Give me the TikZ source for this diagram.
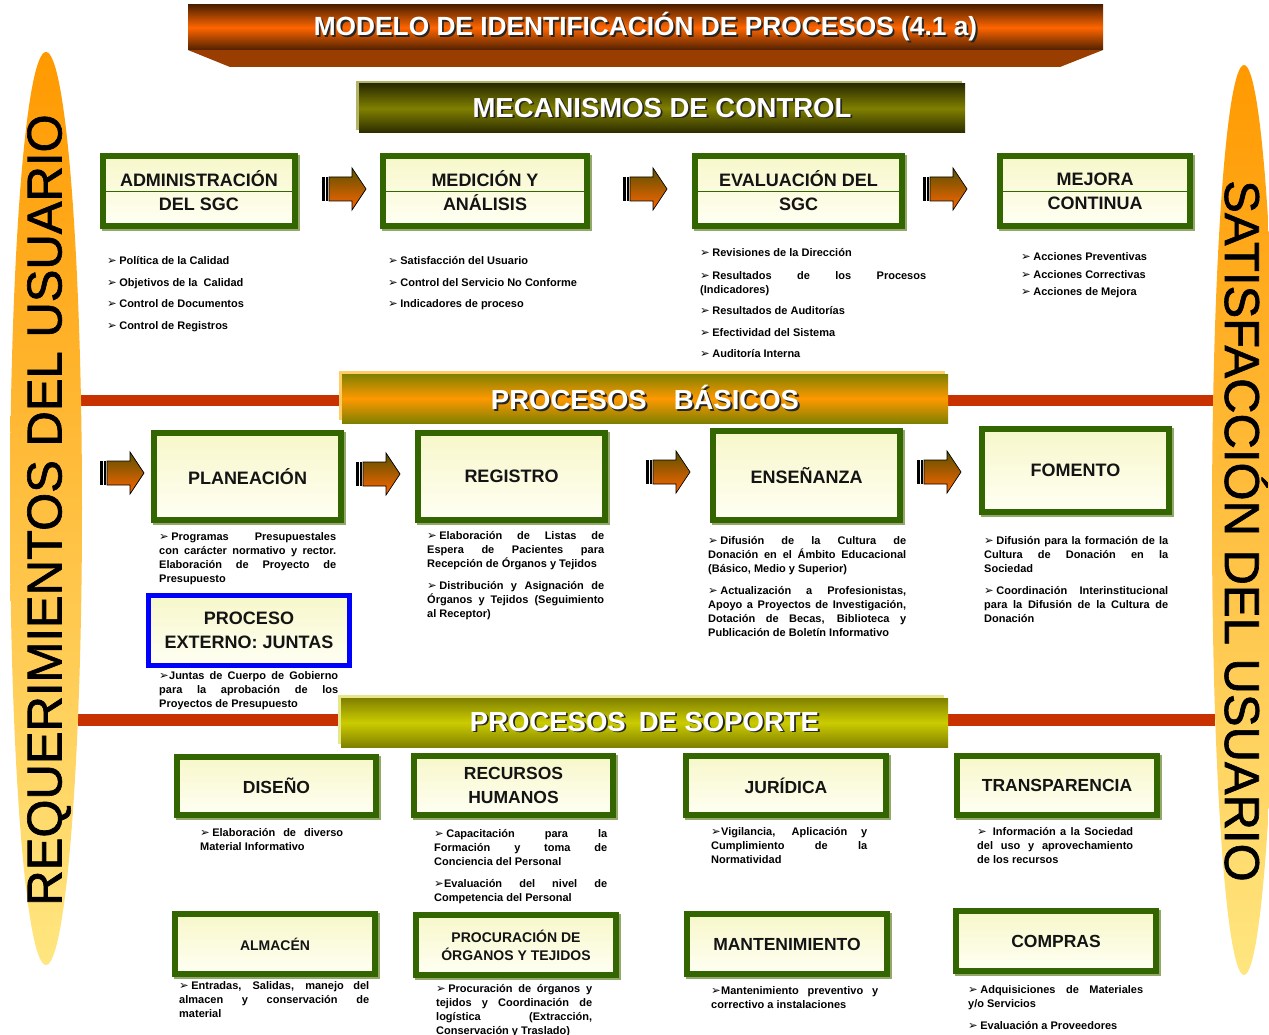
\documentclass[tikz,border=0pt]{standalone}
\usepackage{fontspec}
\setmainfont{Liberation Sans}
\newfontfamily\dejavu{DejaVu Sans}
\newfontfamily\sidefont[FakeBold=1.3]{Liberation Sans}
\usetikzlibrary{shadows,calc}

\definecolor{boxgreen}{HTML}{336600}
\definecolor{boxshadow}{HTML}{93A86A}
\definecolor{creamtop}{HTML}{F7F7CA}
\definecolor{creambot}{HTML}{FFFFF4}
\definecolor{redline}{HTML}{C83200}
\definecolor{ttldark}{HTML}{4F2000}
\definecolor{ttlorange}{HTML}{FF6600}
\definecolor{ttlbase}{HTML}{993D00}
\definecolor{olvdark}{HTML}{2B2B00}
\definecolor{olivemid}{HTML}{808000}
\definecolor{olvedge}{HTML}{B3B36A}
\definecolor{basorange}{HTML}{FF9900}
\definecolor{basedge}{HTML}{FFCC66}
\definecolor{sopyellow}{HTML}{CCCC00}
\definecolor{sopedge}{HTML}{E6E68A}
\definecolor{arrtop}{HTML}{5A5000}
\definecolor{arrbot}{HTML}{FF6600}
\definecolor{sidetop}{HTML}{FF9900}
\definecolor{sidebot}{HTML}{FFE680}
\definecolor{extblue}{HTML}{0000FF}

% white heading text with a dark drop shadow
\newcommand\shtext[1]{\leavevmode\rlap{\kern1.8pt\raisebox{-1.8pt}{\textcolor{black!85}{#1}}}#1}
% bullet glyph
\newcommand\bul{{\dejavu\fontsize{11.5}{11}\selectfont\char"27A2}}
\newcommand\bu{\bul\kern2.5pt}
\newcommand\bun{\bul\kern0.3pt}
% one fully justified line inside a paragraph box
\newcommand\jl[1]{\makebox[\linewidth][s]{#1}}

\hbadness=10000
\hfuzz=20pt

\begin{document}
\begin{tikzpicture}[x=1pt,y=-1pt,
  cbox/.style={draw=boxgreen, line width=6pt, top color=creamtop, bottom color=creambot,
    inner sep=0, align=center, text=black!92, font=\fontsize{18}{24}\selectfont\bfseries},
  gbox/.style={cbox, general shadow={fill=boxshadow, draw=boxshadow, line width=6pt,
    shadow xshift=2pt, shadow yshift=-2pt}},
  hbar/.style={inner sep=0, text=white, font=\fontsize{27.5}{30}\selectfont\bfseries,
    minimum width=606, minimum height=49},
  blist/.style={anchor=base west, inner sep=0, font=\fontsize{11}{14.3}\selectfont\bfseries},
  side/.style={inner sep=0, font=\sidefont\fontsize{49}{49}\selectfont, text=black},
  blockarr/.pic={
    \shadedraw[top color=arrtop, bottom color=arrbot, draw=black, line width=0.7pt]
      (-15,-12) -- (8,-12) -- (8,-21) -- (22,0) -- (8,21) -- (8,12) -- (-15,12) -- cycle;
    \fill[black] (-22,-12) rectangle (-19,12);
    \fill[black] (-18,-12) rectangle (-16.3,12);
  }
]
\useasboundingbox (0,0) rectangle (1269,1035);

% ---------- separating red lines ----------
\fill[redline] (78,395) rectangle (345,406);
\fill[redline] (945,395) rectangle (1215,406);
\fill[redline] (78,714) rectangle (345,726);
\fill[redline] (945,714) rectangle (1215,726);

% ---------- side bands ----------
\shade[top color=sidetop, bottom color=sidebot] (46,508.5) ellipse [x radius=36, y radius=456.5];
\shade[top color=sidetop, bottom color=sidebot] (1244,520) ellipse [x radius=32, y radius=455];
\node[side, rotate=90] (req) at (49,510) {REQUERIMIENTOS DEL USUARIO};
\node[side, rotate=-90] (sat) at (1246,531) {SATISFACCIÓN DEL USUARIO};

% ---------- title ----------
\fill[ttlbase] (188,50) -- (1103,50) -- (1060,67) -- (230,67) -- cycle;
\node[inner sep=0, minimum width=915, minimum height=45, top color=ttldark, bottom color=ttldark,
  middle color=ttlorange, text=white, font=\fontsize{26.3}{28}\selectfont\bfseries]
  (ttl) at (645.5,27.5) {\shtext{MODELO DE IDENTIFICACIÓN DE PROCESOS (4.1 a)}};

% ---------- control mechanisms ----------
\fill[olvedge] (356,81) rectangle (962,130);
\node[hbar, top color=olvdark, bottom color=olvdark, middle color=olivemid]
  (mec) at (662,108.5) {\shtext{MECANISMOS DE CONTROL}};

\node[gbox, minimum width=192, minimum height=70] (adm) at (199,191) {ADMINISTRACIÓN\\DEL SGC};
\node[gbox, minimum width=204, minimum height=70] (med) at (485,191) {MEDICIÓN Y\\ANÁLISIS};
\node[gbox, minimum width=207, minimum height=70] (eva) at (798.5,191) {EVALUACIÓN DEL\\SGC};
\node[gbox, minimum width=190, minimum height=70] (mej) at (1095,191) {MEJORA\\CONTINUA};
\foreach \b in {adm,med,eva,mej}
  \draw[boxgreen, line width=1.2pt] ($(\b.west)+(3,0.5)$) -- ($(\b.east)+(-3,0.5)$);

\pic at (344,189) {blockarr};
\pic at (645,189) {blockarr};
\pic at (945,189) {blockarr};

\node[blist] (adm1) at (107,264) {\bu Política de la Calidad};
\node[blist] (adm2) at (107,286) {\bu Objetivos de la\ \ Calidad};
\node[blist] (adm3) at (107,307) {\bu Control de Documentos};
\node[blist] (adm4) at (107,329) {\bu Control de Registros};

\node[blist] (med1) at (388,265) {\bu Satisfacción del Usuario};
\node[blist] (med2) at (388,286) {\bu Control del Servicio No Conforme};
\node[blist] (med3) at (388,307) {\bu Indicadores de proceso};

\node[blist] (eva1) at (700,257) {\bu Revisiones de la Dirección};
\node[blist] (eva2) at (700,279) {\parbox[t]{226pt}{\jl{\bu Resultados de los Procesos}\\(Indicadores)}};
\node[blist] (eva3) at (700,314) {\bu Resultados de Auditorías};
\node[blist] (eva4) at (700,336) {\bu Efectividad del Sistema};
\node[blist] (eva5) at (700,357) {\bu Auditoría Interna};

\node[blist] (mej1) at (1021,261) {\bu Acciones Preventivas};
\node[blist] (mej2) at (1021,278) {\bu Acciones Correctivas};
\node[blist] (mej3) at (1021,295) {\bu Acciones de Mejora};

% ---------- basic processes ----------
\fill[basedge] (339,371) rectangle (945,420);
\node[hbar, top color=olivemid, bottom color=olivemid, middle color=basorange]
  (bas) at (645,398.5) {\shtext{PROCESOS\hspace{27pt}BÁSICOS}};

\node[gbox, minimum width=187, minimum height=87] (pla) at (247.5,476.5) {PLANEACIÓN};
\node[gbox, minimum width=187, minimum height=87] (reg) at (511.5,476.5) {REGISTRO};
\node[gbox, minimum width=187, minimum height=89] (ens) at (806.5,475.5) {ENSEÑANZA};
\node[gbox, minimum width=187, minimum height=83] (fom) at (1075.5,470.5) {FOMENTO};
\node[cbox, draw=extblue, line width=5pt, minimum width=201, minimum height=70]
  (ext) at (249,630.5) {PROCESO\\EXTERNO: JUNTAS};

\pic at (122,473) {blockarr};
\pic at (378,474) {blockarr};
\pic at (668,472) {blockarr};
\pic at (939,472) {blockarr};

\node[blist] (pla1) at (159,540) {\parbox[t]{177pt}{\jl{\bu Programas Presupuestales}\\\jl{con carácter normativo y rector.}\\\jl{Elaboración de Proyecto de}\\Presupuesto}};
\node[blist] (ext1) at (159,679) {\parbox[t]{179pt}{\jl{\bun Juntas de Cuerpo de Gobierno}\\\jl{para la aprobación de los}\\Proyectos de Presupuesto}};
\node[blist] (reg1) at (427,539) {\parbox[t]{177pt}{\jl{\bu Elaboración de Listas de}\\\jl{Espera de Pacientes para}\\Recepción de Órganos y Tejidos}};
\node[blist] (reg2) at (427,589) {\parbox[t]{177pt}{\jl{\bu Distribución y Asignación de}\\\jl{Órganos y Tejidos (Seguimiento}\\al Receptor)}};
\node[blist] (ens1) at (708,544) {\parbox[t]{198pt}{\jl{\bu Difusión de la Cultura de}\\\jl{Donación en el Ámbito Educacional}\\(Básico, Medio y Superior)}};
\node[blist] (ens2) at (708,594) {\parbox[t]{198pt}{\jl{\bu Actualización a Profesionistas,}\\\jl{Apoyo a Proyectos de Investigación,}\\\jl{Dotación de Becas, Biblioteca y}\\Publicación de Boletín Informativo}};
\node[blist] (fom1) at (984,544) {\parbox[t]{184pt}{\jl{\bu Difusión para la formación de la}\\\jl{Cultura de Donación en la}\\Sociedad}};
\node[blist] (fom2) at (984,594) {\parbox[t]{184pt}{\jl{\bu Coordinación Interinstitucional}\\\jl{para la Difusión de la Cultura de}\\Donación}};

% ---------- support processes ----------
\fill[sopedge] (338,695) rectangle (944,744);
\node[hbar, minimum width=607, top color=olivemid, bottom color=olivemid, middle color=sopyellow]
  (sop) at (644.5,722.5) {\shtext{PROCESOS\hspace{13pt}DE SOPORTE}};

\node[gbox, minimum width=199, minimum height=58, font=\fontsize{17.5}{24}\selectfont\bfseries] (dis) at (276.5,786) {DISEÑO};
\node[gbox, minimum width=199, minimum height=59, font=\fontsize{17.5}{24}\selectfont\bfseries] (rh) at (513.5,785.5) {RECURSOS\\HUMANOS};
\node[gbox, minimum width=200, minimum height=59, font=\fontsize{17.5}{24}\selectfont\bfseries] (jur) at (786,785.5) {JURÍDICA};
\node[gbox, minimum width=200, minimum height=59, font=\fontsize{17.5}{24}\selectfont\bfseries] (tra) at (1057,785.5) {TRANSPARENCIA};
\node[gbox, minimum width=200, minimum height=60, font=\fontsize{14}{18}\selectfont\bfseries] (alm) at (275,944) {ALMACÉN};
\node[gbox, minimum width=200, minimum height=60, font=\fontsize{14}{18}\selectfont\bfseries] (pro) at (516,945) {PROCURACIÓN DE\\ÓRGANOS Y TEJIDOS};
\node[gbox, minimum width=200, minimum height=60, font=\fontsize{17.5}{24}\selectfont\bfseries] (man) at (787,944) {MANTENIMIENTO};
\node[gbox, minimum width=200, minimum height=60, font=\fontsize{17.5}{24}\selectfont\bfseries] (com) at (1056,941) {COMPRAS};

\node[blist] (dis1) at (200,836) {\parbox[t]{143pt}{\jl{\bu Elaboración de diverso}\\Material Informativo}};
\node[blist] (rh1) at (434,837) {\parbox[t]{173pt}{\jl{\bu Capacitación para la}\\\jl{Formación y toma de}\\Conciencia del Personal}};
\node[blist] (rh2) at (434,887) {\parbox[t]{173pt}{\jl{\bun Evaluación del nivel de}\\Competencia del Personal}};
\node[blist] (jur1) at (711,835) {\parbox[t]{156pt}{\jl{\bun Vigilancia, Aplicación y}\\\jl{Cumplimiento de la}\\Normatividad}};
\node[blist] (tra1) at (977,835) {\parbox[t]{156pt}{\jl{\bul\kern6pt Información a la Sociedad}\\\jl{del uso y aprovechamiento}\\de los recursos}};
\node[blist] (alm1) at (179,989) {\parbox[t]{190pt}{\jl{\bu Entradas, Salidas, manejo del}\\\jl{almacen y conservación de}\\material}};
\node[blist] (pro1) at (436,992) {\parbox[t]{156pt}{\jl{\bu Procuración de órganos y}\\\jl{tejidos y Coordinación de}\\\jl{logística (Extracción,}\\Conservación y Traslado)}};
\node[blist] (man1) at (711,994) {\parbox[t]{167pt}{\jl{\bun Mantenimiento preventivo y}\\correctivo a instalaciones}};
\node[blist] (com1) at (968,993) {\parbox[t]{175pt}{\jl{\bu Adquisiciones de Materiales}\\y/o Servicios}};
\node[blist] (com2) at (968,1029) {\bu Evaluación a Proveedores};
\end{tikzpicture}
\end{document}
